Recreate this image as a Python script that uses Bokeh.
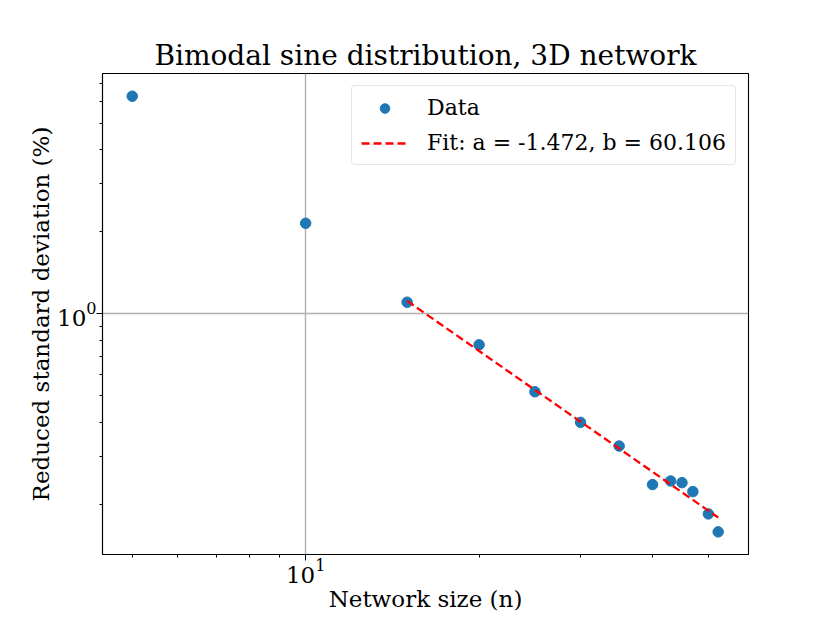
from bokeh.plotting import figure
from bokeh.models import Range1d, FixedTicker, Legend, LegendItem
from bokeh.embed import file_html
from bokeh.resources import INLINE

# Data
network_size = [5, 10, 15, 20, 25, 30, 35, 40, 43, 45, 47, 50, 52]
reduced_std = [6.29, 2.15, 1.104, 0.770, 0.518, 0.400, 0.3276, 0.2365, 0.2439, 0.2404, 0.2229, 0.1846, 0.1586]

# Fit parameters from the legend: y = b * n^a, fitted for n >= 15
fit_a = -1.472
fit_b = 60.106
fit_n = [n for n in network_size if n >= 15]
fit_y = [fit_b * n ** fit_a for n in fit_n]

title_text = "Bimodal sine distribution, 3D network"
x_label = "Network size (n)"
y_label = "Reduced standard deviation (%)"
fit_label = "Fit: a = -1.472, b = 60.106"
data_label = "Data"

SERIF = "DejaVu Serif"

p = figure(
    width=814, height=615,
    x_axis_type="log", y_axis_type="log",
    x_range=Range1d(4.44, 58.7), y_range=Range1d(0.131, 7.62),
    output_backend="svg", toolbar_location=None,
    min_border_left=102, min_border_right=66,
    min_border_top=73, min_border_bottom=61,
)

p.title.text = title_text
p.title.text_font = SERIF
p.title.text_font_size = "28px"
p.title.text_font_style = "normal"
p.title.align = "center"
p.title.text_color = "black"
p.title.standoff = 4

p.outline_line_color = "black"
p.outline_line_width = 1.1
p.background_fill_color = "white"
p.border_fill_color = "white"

for ax in (p.xaxis[0], p.yaxis[0]):
    ax.axis_label_text_font = SERIF
    ax.axis_label_text_font_size = "23px"
    ax.axis_label_text_font_style = "normal"
    ax.axis_label_text_color = "black"
    ax.major_label_text_font = SERIF
    ax.major_label_text_font_size = "23px"
    ax.major_label_text_color = "black"
    ax.axis_line_color = "black"
    ax.axis_line_width = 1.1
    ax.major_tick_in = 0
    ax.major_tick_out = 6
    ax.minor_tick_in = 0
    ax.minor_tick_out = 3
    ax.major_tick_line_color = "black"
    ax.minor_tick_line_color = "black"

p.xaxis.major_label_standoff = -2
p.xaxis.axis_label_standoff = 0
p.yaxis.major_label_standoff = 0
p.yaxis.axis_label_standoff = 0

p.xaxis.axis_label = x_label
p.yaxis.axis_label = y_label
p.xaxis.ticker = FixedTicker(ticks=[10], minor_ticks=[5, 6, 7, 8, 9, 20, 30, 40, 50])
p.yaxis.ticker = FixedTicker(ticks=[1], minor_ticks=[0.2, 0.3, 0.4, 0.5, 0.6, 0.7, 0.8, 0.9, 2, 3, 4, 5, 6, 7])

p.xgrid.ticker = FixedTicker(ticks=[10])
p.ygrid.ticker = FixedTicker(ticks=[1])
p.grid.grid_line_color = "#b0b0b0"
p.grid.grid_line_width = 1.4

pts = p.scatter(network_size, reduced_std, size=10.5, color="#1f77b4", line_color="#1f77b4")
fit = p.line(fit_n, fit_y, line_color="red", line_width=2.3, line_dash="8 4")

legend = Legend(
    items=[LegendItem(label=data_label, renderers=[pts]),
           LegendItem(label=fit_label, renderers=[fit])],
    location="top_right",
)
legend.label_text_font = SERIF
legend.label_text_font_size = "22px"
legend.label_text_color = "black"
legend.label_standoff = 19
legend.glyph_width = 47
legend.glyph_height = 24
legend.label_height = 24
legend.spacing = 10
legend.padding = 9
legend.margin = 12
legend.border_line_color = "#cccccc"
legend.border_line_width = 1.2
legend.border_radius = 4
legend.background_fill_alpha = 0.8
p.add_layout(legend)

open("out.html", "w").write(file_html(p, INLINE))
